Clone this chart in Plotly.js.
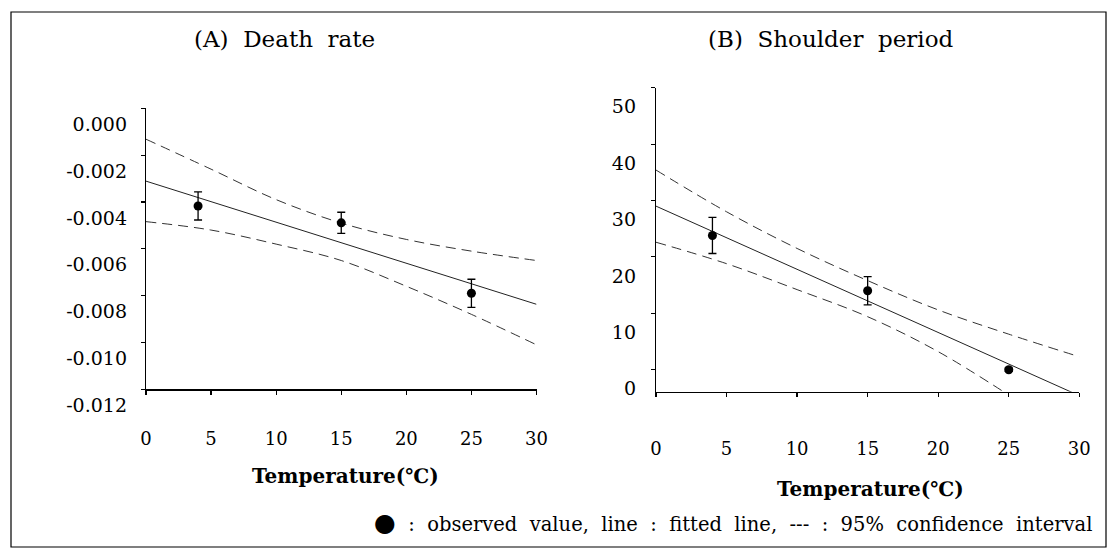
<!DOCTYPE html>
<html><head><meta charset="utf-8">
<script src="https://cdn.plot.ly/plotly-3.0.1.min.js"></script>
<style>html,body{margin:0;padding:0;background:#fff}</style>
</head><body>
<div id="chart" style="width:1113px;height:550px"></div>
<script>
// ---- data ----
const temps = [4, 15, 25];
const xTickVals = [0, 5, 10, 15, 20, 25, 30];
const xTickText = ["0", "5", "10", "15", "20", "25", "30"];

// (A) Death rate
const deathRate = [-0.00417, -0.00489, -0.0079];
const deathRateErr = [0.0006, 0.00045, 0.0006];
const fitX = [0, 30];
const deathFit = [-0.00311, -0.00837];
const ciX = [0, 5, 10, 15, 20, 25, 30];
const deathUpper = [-0.00132, -0.0026, -0.0039, -0.0049, -0.0056, -0.0061, -0.0065];
const deathLower = [-0.00484, -0.0052, -0.0058, -0.0065, -0.0076, -0.0088, -0.0101];
const deathTickVals = [0, -0.002, -0.004, -0.006, -0.008, -0.010, -0.012];
const deathTickText = ["0.000", "-0.002", "-0.004", "-0.006", "-0.008", "-0.010", "-0.012"];

// (B) Shoulder period
const shoulder = [23.8, 14.0, 0.0];
const shoulderErr = [3.2, 2.5, 0.3];
const shoulderFit = [29.0, -4.6];
const shoulderUpperX = [0, 5, 10, 15, 20, 25, 30];
const shoulderUpper = [35.4, 28.0, 21.5, 15.8, 10.6, 6.3, 2.3];
const shoulderLowerX = [0, 5, 10, 15, 20, 25];
const shoulderLower = [22.6, 18.8, 14.2, 9.4, 3.2, -4.5];
const shoulderTickVals = [0, 10, 20, 30, 40, 50];
const shoulderTickText = ["0", "10", "20", "30", "40", "50"];

const titles = ["(A)\u00a0 Death\u00a0 rate", "(B)\u00a0 Shoulder\u00a0 period"];
const xTitle = "Temperature(\u2103)";
const legendText = "<span style='font-size:25px'>\u25CF</span>\u00a0 :\u00a0 observed\u00a0 value,\u00a0 line\u00a0 :\u00a0 fitted\u00a0 line,\u00a0 ---\u00a0 :\u00a0 95%\u00a0 confidence\u00a0 interval";

// ---- styles ----
const FONT = "DejaVu Serif, Liberation Serif, serif";
const fitLine = {color: "#222", width: 1};
const ciLine = {color: "#333", width: 1, dash: "10px,6px"};
const marker = {color: "black", size: 9};
function err(arr) { return {type: "data", array: arr, visible: true, color: "black", thickness: 1.3, width: 4}; }

const traces = [
  {x: ciX, y: deathUpper, mode: "lines", line: Object.assign({shape: "spline"}, ciLine), xaxis: "x", yaxis: "y"},
  {x: ciX, y: deathLower, mode: "lines", line: Object.assign({shape: "spline"}, ciLine), xaxis: "x", yaxis: "y"},
  {x: fitX, y: deathFit, mode: "lines", line: fitLine, xaxis: "x", yaxis: "y"},
  {x: temps, y: deathRate, mode: "markers", marker: marker, error_y: err(deathRateErr), xaxis: "x", yaxis: "y"},
  {x: shoulderUpperX, y: shoulderUpper, mode: "lines", line: Object.assign({shape: "spline"}, ciLine), xaxis: "x2", yaxis: "y2"},
  {x: shoulderLowerX, y: shoulderLower, mode: "lines", line: Object.assign({shape: "spline"}, ciLine), xaxis: "x2", yaxis: "y2"},
  {x: fitX, y: shoulderFit, mode: "lines", line: fitLine, xaxis: "x2", yaxis: "y2"},
  {x: temps, y: shoulder, mode: "markers", marker: marker, error_y: err(shoulderErr), xaxis: "x2", yaxis: "y2"}
];

const W = 1113, H = 550;
const px = v => v / W;
const py = v => (H - v) / H;

function xAx(dom, anchor, standoff) {
  return {domain: dom, anchor: anchor, range: [0, 30], tickmode: "array", tickvals: xTickVals, ticktext: xTickText,
    showline: true, linecolor: "black", linewidth: 1.2, ticks: "outside", ticklen: 4, tickwidth: 1.2, tickcolor: "black",
    showgrid: false, zeroline: false, ticklabelstandoff: standoff, tickfont: {family: FONT, size: 18, color: "black"}};
}
function yAx(dom, anchor, range, vals, text, shift, standoff) {
  return {domain: dom, anchor: anchor, range: range, tickmode: "array", tickvals: vals, ticktext: text,
    showline: true, linecolor: "black", linewidth: 1.2, ticks: "outside", ticklen: 4, tickwidth: 1.2, tickcolor: "black",
    showgrid: false, zeroline: false, ticklabelshift: shift, ticklabelstandoff: standoff,
    tickfont: {family: FONT, size: 19, color: "black"}};
}

function note(text, x, y, size, extra) {
  return Object.assign({text: text, x: px(x), y: py(y), xref: "paper", yref: "paper", xanchor: "center", yanchor: "middle",
    showarrow: false, font: {family: FONT, size: size, color: "black"}}, extra || {});
}

const layout = {
  width: W, height: H, margin: {l: 0, r: 0, t: 0, b: 0}, showlegend: false,
  paper_bgcolor: "white", plot_bgcolor: "white",
  xaxis: xAx([px(146), px(536.5)], "y", 29),
  yaxis: yAx([py(389.3), py(108.3)], "x", [-0.012, 0], deathTickVals, deathTickText, 16, 10),
  xaxis2: xAx([px(656), px(1079.3)], "y2", 36),
  yaxis2: yAx([py(391.7), py(87.7)], "x2", [-3.9, 50], shoulderTickVals, shoulderTickText, 19, 11),
  shapes: [{type: "rect", xref: "paper", yref: "paper", x0: px(11), x1: px(1106), y0: py(547), y1: py(12),
    line: {color: "black", width: 1.2}, fillcolor: "rgba(0,0,0,0)"}],
  annotations: [
    note(titles[0], 284, 39, 23),
    note(titles[1], 831, 39, 23),
    note("<b>" + xTitle + "</b>", 345, 476, 20),
    note("<b>" + xTitle + "</b>", 870, 489, 20),
    note(legendText, 1094, 522, 19.5, {xanchor: "right"})
  ]
};

Plotly.newPlot("chart", traces, layout, {displayModeBar: false, staticPlot: true});
</script>
</body></html>
